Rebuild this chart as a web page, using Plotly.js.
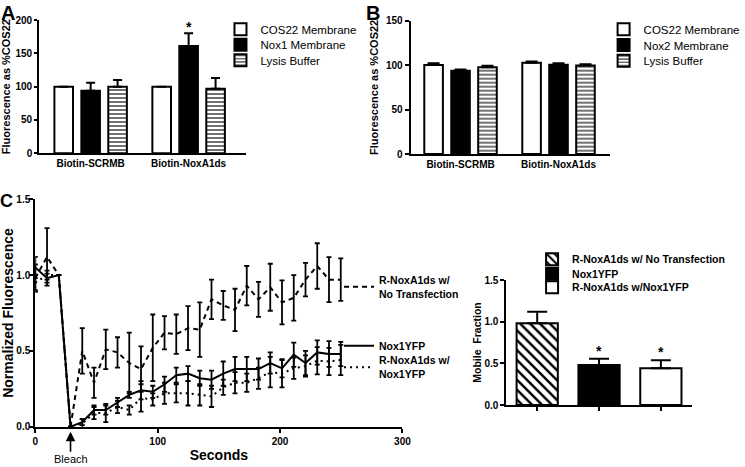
<!DOCTYPE html>
<html><head><meta charset="utf-8">
<script src="https://cdn.plot.ly/plotly-3.0.1.min.js"></script>
<style>html,body{margin:0;padding:0;background:#fff;overflow:hidden}#chart{width:745px;height:467px}</style>
</head><body><div id="chart"></div>
<script>
// ---------- Panel A ----------
const groupsAB = ['Biotin-SCRMB', 'Biotin-NoxA1ds'];
const seriesA = ['COS22 Membrane', 'Nox1 Membrane', 'Lysis Buffer'];
const cos22A = [100, 100];
const cos22AErr = [0, 0];
const nox1A = [94, 161];
const nox1AErr = [12, 19];
const lysisA = [100, 97];
const lysisAErr = [10, 16];
// ---------- Panel B ----------
const seriesB = ['COS22 Membrane', 'Nox2 Membrane', 'Lysis Buffer'];
const cos22B = [100.1, 102.7];
const cos22BErr = [2.0, 1.5];
const nox2B = [93.7, 100.5];
const nox2BErr = [1.5, 1.5];
const lysisB = [97.5, 99.7];
const lysisBErr = [1.8, 1.2];
// ---------- Panel C (FRAP) ----------
const seriesC = ['R-NoxA1ds w/<br>No Transfection', 'Nox1YFP', 'R-NoxA1ds w/<br>Nox1YFP'];
const seconds = [0, 9.6, 19.2, 28.8, 38.4, 48, 57.6, 67.2, 76.8, 86.4, 96, 105.6, 115.2, 124.8, 134.4, 144, 153.6, 163.2, 172.8, 182.4, 192, 201.6, 211.2, 220.8, 230.4, 240, 249.6];
const noTransfection = [0.98, 1.12, 1.00, 0.00, 0.50, 0.29, 0.51, 0.49, 0.42, 0.38, 0.52, 0.62, 0.61, 0.65, 0.64, 0.84, 0.80, 0.77, 0.93, 0.84, 0.92, 0.82, 0.85, 0.97, 1.06, 0.97, 0.97];
const noTransfectionErr = [0.09, 0.19, 0.00, 0.00, 0.15, 0.10, 0.13, 0.10, 0.20, 0.15, 0.22, 0.11, 0.13, 0.145, 0.18, 0.13, 0.095, 0.14, 0.13, 0.115, 0.155, 0.145, 0.15, 0.11, 0.15, 0.148, 0.14];
const nox1YFP = [1.05, 0.98, 1.00, 0.00, 0.03, 0.11, 0.11, 0.16, 0.21, 0.24, 0.23, 0.28, 0.34, 0.35, 0.32, 0.31, 0.35, 0.38, 0.38, 0.38, 0.42, 0.385, 0.475, 0.42, 0.49, 0.48, 0.48];
const nox1YFPErr = [0.07, 0.03, 0.00, 0.00, 0.02, 0.03, 0.03, 0.03, 0.02, 0.06, 0.04, 0.05, 0.05, 0.05, 0.05, 0.06, 0.08, 0.08, 0.08, 0.07, 0.07, 0.06, 0.08, 0.08, 0.08, 0.085, 0.08];
const withNox1YFP = [0.95, 1.00, 1.00, 0.00, 0.02, 0.09, 0.09, 0.13, 0.11, 0.19, 0.18, 0.22, 0.22, 0.22, 0.21, 0.20, 0.26, 0.29, 0.29, 0.32, 0.36, 0.35, 0.385, 0.40, 0.435, 0.43, 0.44];
const withNox1YFPErr = [0.05, 0.03, 0.00, 0.00, 0.03, 0.04, 0.06, 0.04, 0.03, 0.09, 0.04, 0.07, 0.06, 0.08, 0.07, 0.07, 0.05, 0.07, 0.06, 0.07, 0.10, 0.09, 0.07, 0.07, 0.09, 0.09, 0.10];
const bleachTime = 28.8;
// ---------- Mobile fraction ----------
const mobileLabels = ['R-NoxA1ds w/ No Transfection', 'Nox1YFP', 'R-NoxA1ds w/Nox1YFP'];
const mobileFraction = [0.98, 0.48, 0.44];
const mobileErr = [0.14, 0.076, 0.096];

// ---------- helpers ----------
const W = 745, H = 467;
const FF = 'Liberation Sans, Arial, Helvetica, sans-serif';
const dX = (a, b) => [a / W, b / W];
const dY = (top, bottom) => [1 - bottom / H, 1 - top / H];
const zeros = a => a.map(() => 0);
const bold = (s) => ({family: FF, size: s, color: '#000', weight: 700});
const reg = (s) => ({family: FF, size: s, color: '#000'});

function upErr(arr, w) {
  return {type: 'data', array: arr, arrayminus: zeros(arr), symmetric: false,
          color: '#000', thickness: 2, width: w, visible: true};
}
const hLines = {shape: '-', fgcolor: '#000', bgcolor: '#fff', size: 4, solidity: 0.28, fillmode: 'replace'};
const hatch = {shape: '\\', fgcolor: '#000', bgcolor: '#fff', size: 7, solidity: 0.35, fillmode: 'replace'};

function barTrace(name, x, y, err, fill, pattern, xa, ya, leg, capw) {
  const t = {type: 'bar', name: name, x: x, y: y, xaxis: xa, yaxis: ya, legend: leg,
    marker: {color: fill, line: {color: '#000', width: 2}},
    error_y: upErr(err, capw), hoverinfo: 'skip'};
  if (pattern) t.marker.pattern = pattern;
  return t;
}

const traces = [];
// A
traces.push(barTrace(seriesA[0], groupsAB, cos22A, cos22AErr, '#fff', null, 'x', 'y', 'legend', 4.5));
traces.push(barTrace(seriesA[1], groupsAB, nox1A, nox1AErr, '#000', null, 'x', 'y', 'legend2', 4.5));
traces.push(barTrace(seriesA[2], groupsAB, lysisA, lysisAErr, '#fff', hLines, 'x', 'y', 'legend3', 4.5));
// B
traces.push(barTrace(seriesB[0], groupsAB, cos22B, cos22BErr, '#fff', null, 'x2', 'y2', 'legend4', 6));
traces.push(barTrace(seriesB[1], groupsAB, nox2B, nox2BErr, '#000', null, 'x2', 'y2', 'legend5', 6));
traces.push(barTrace(seriesB[2], groupsAB, lysisB, lysisBErr, '#fff', hLines, 'x2', 'y2', 'legend6', 6));
// C lines
function lineTrace(name, y, err, dash, leg) {
  return {type: 'scatter', mode: 'lines', name: name, x: seconds, y: y, xaxis: 'x3', yaxis: 'y3', legend: leg,
    line: {color: '#000', width: 2, dash: dash},
    error_y: {type: 'data', array: err, symmetric: true, color: '#000', thickness: 1.8, width: 2.5},
    hoverinfo: 'skip'};
}
traces.push(lineTrace(seriesC[0], noTransfection, noTransfectionErr, '5px,4px', 'legend7'));
traces.push(lineTrace(seriesC[1], nox1YFP, nox1YFPErr, 'solid', 'legend8'));
traces.push(lineTrace(seriesC[2], withNox1YFP, withNox1YFPErr, '2px,4px', 'legend9'));
// Mobile fraction bars
const mobFills = ['#fff', '#000', '#fff'];
const mobPatterns = [hatch, null, null];
for (let i = 0; i < 3; i++) {
  const t = barTrace(mobileLabels[i], [mobileLabels[i]], [mobileFraction[i]], [mobileErr[i]],
    mobFills[i], mobPatterns[i], 'x4', 'y4', 'legend' + (10 + i), 10);
  t.width = 0.667; t.offset = -0.3335;
  traces.push(t);
}

function leg(textX, yCenter, font) {
  return {x: (textX - 40) / W, y: 1 - yCenter / H, xanchor: 'left', yanchor: 'middle',
    bgcolor: 'rgba(0,0,0,0)', borderwidth: 0, font: font, orientation: 'v'};
}

const axLine = {showline: true, linecolor: '#000', linewidth: 2, showgrid: false, zeroline: false,
  ticks: 'outside', tickcolor: '#000', tickwidth: 2, ticklen: 4, fixedrange: true};

const layout = {
  width: W, height: H,
  margin: {l: 0, r: 0, t: 0, b: 0},
  paper_bgcolor: '#fff', plot_bgcolor: 'rgba(0,0,0,0)',
  font: {family: FF, color: '#000'},
  barmode: 'group', bargap: 0.175, bargroupgap: 0.31,
  showlegend: true,
  xaxis: Object.assign({}, axLine, {domain: dX(40, 251), anchor: 'y', type: 'category',
    range: [-0.525, 1.585], ticks: '', tickfont: bold(10)}),
  yaxis: Object.assign({}, axLine, {domain: dY(20, 153.3), anchor: 'x', range: [0, 200], dtick: 50,
    ticklen: 3, tickfont: bold(10),
    title: {text: 'Fluorescence as %COS22', font: bold(11), standoff: 3}}),
  xaxis2: Object.assign({}, axLine, {domain: dX(419, 623), anchor: 'y2', type: 'category',
    range: [-0.51, 1.53], ticks: '', tickfont: bold(10)}),
  yaxis2: Object.assign({}, axLine, {domain: dY(20.7, 154), anchor: 'x2', range: [0, 150], dtick: 50,
    ticklen: 4, tickfont: bold(10),
    title: {text: 'Fluorescence as %COS22', font: bold(11), standoff: 5}}),
  xaxis3: Object.assign({}, axLine, {domain: dX(36, 410.7), anchor: 'y3', range: [0, 300], dtick: 100,
    tickfont: bold(10),
    title: {text: 'Seconds', font: bold(14), standoff: 4}}),
  yaxis3: Object.assign({}, axLine, {domain: dY(199.3, 426.7), anchor: 'x3', range: [0, 1.5], dtick: 0.5,
    tickformat: '.1f', tickfont: bold(10), ticklabelstandoff: -3,
    title: {text: 'Normalized Fluorescence', font: bold(14), standoff: 3}}),
  xaxis4: Object.assign({}, axLine, {domain: dX(516.7, 706), anchor: 'y4', type: 'category',
    range: [-0.5, 2.5], showticklabels: false, ticklen: 4}),
  yaxis4: Object.assign({}, axLine, {domain: dY(280, 405), anchor: 'x4', range: [0, 1.5], dtick: 0.5,
    tickformat: '.1f', tickfont: bold(10),
    title: {text: 'Mobile\u00a0 Fraction', font: bold(10.5), standoff: 1}}),
  legend: leg(265, 29.3, reg(11.5)),
  legend2: leg(265, 44.7, reg(11.5)),
  legend3: leg(265, 60.3, reg(11.5)),
  legend4: leg(656, 29.3, reg(11.5)),
  legend5: leg(656, 45, reg(11.5)),
  legend6: leg(656, 60.7, reg(11.5)),
  legend7: leg(386, 287, bold(10.5)),
  legend8: leg(386, 345.7, bold(10.5)),
  legend9: leg(386, 367.5, bold(10.5)),
  legend10: leg(583, 259.3, bold(10.5)),
  legend11: leg(583, 273.7, bold(10.5)),
  legend12: leg(583, 287.3, bold(10.5)),
  annotations: [
    {text: 'A', xref: 'paper', yref: 'paper', x: 0, y: 1, xanchor: 'left', yanchor: 'top', showarrow: false, font: bold(20), xshift: -1},
    {text: 'B', xref: 'paper', yref: 'paper', x: 371 / W, y: 1, xanchor: 'left', yanchor: 'top', showarrow: false, font: bold(20)},
    {text: 'C', xref: 'paper', yref: 'paper', x: 0, y: 1 - 189 / H, xanchor: 'left', yanchor: 'top', showarrow: false, font: bold(18), xshift: -2},
    {text: '*', xref: 'x', yref: 'y', x: groupsAB[1], y: nox1A[1] + nox1AErr[1], yanchor: 'bottom', showarrow: false, font: bold(14), yshift: -4},
    {text: '*', xref: 'x4', yref: 'y4', x: mobileLabels[1], y: mobileFraction[1] + mobileErr[1], yanchor: 'bottom', showarrow: false, font: bold(14), yshift: -2},
    {text: '*', xref: 'x4', yref: 'y4', x: mobileLabels[2], y: mobileFraction[2] + mobileErr[2], yanchor: 'bottom', showarrow: false, font: bold(14), yshift: -2},
    {text: 'Bleach', xref: 'x3', yref: 'paper', x: bleachTime, y: 1 - 431.7 / H, showarrow: true,
     ax: 0, ay: 27.5, arrowhead: 2, arrowsize: 1.2, arrowwidth: 1.6, arrowcolor: '#000', standoff: 0, startstandoff: 0,
     font: reg(11)}
  ]
};

Plotly.newPlot('chart', traces, layout, {staticPlot: true, displayModeBar: false});
</script>
</body></html>
